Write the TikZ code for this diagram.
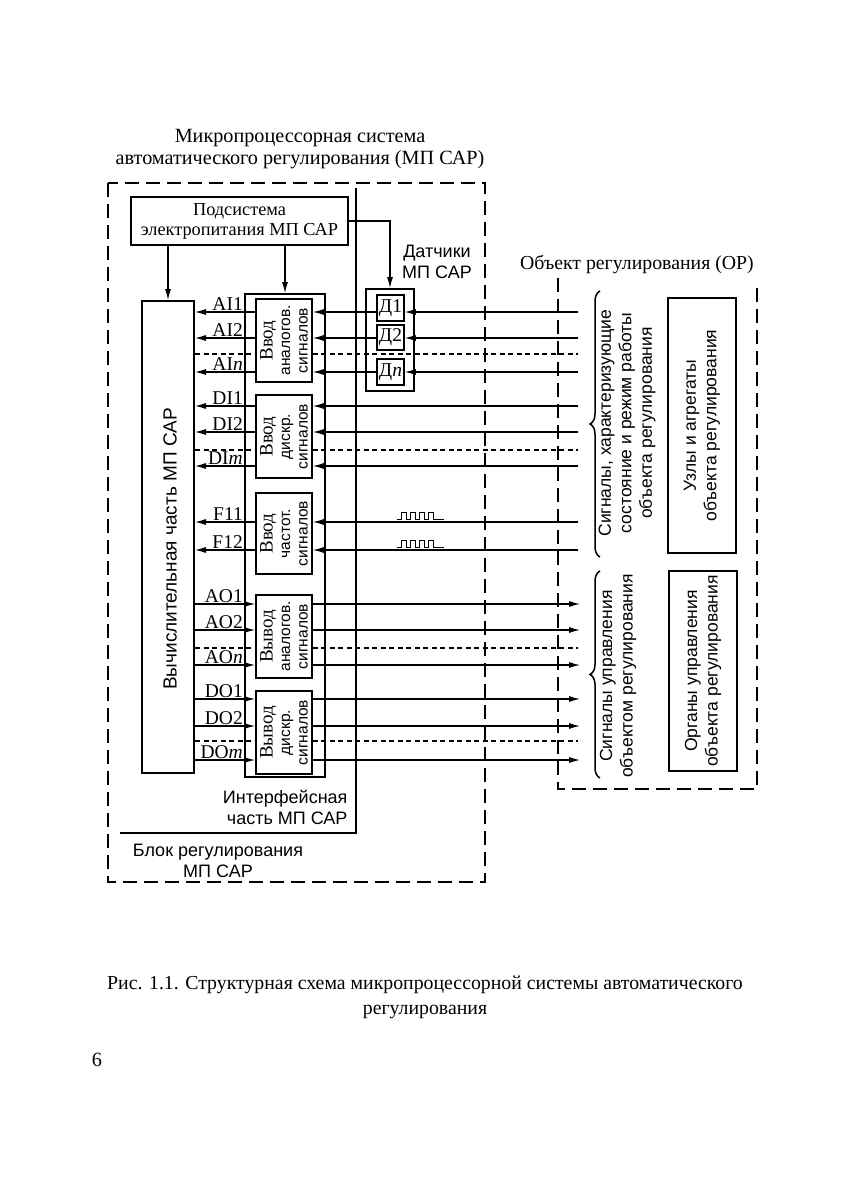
\documentclass[tikz,border=0pt]{standalone}
\usepackage{fontspec}
\setmainfont{Liberation Serif}
\setsansfont{Liberation Sans}
\usetikzlibrary{arrows.meta,decorations.pathreplacing}
\newcommand{\bhead}[1]{{\rmfamily\fontsize{19}{18}\selectfont #1}}
\begin{document}
\begin{tikzpicture}[x=1pt,y=-1pt,
  box/.style={draw, line width=1.8pt, inner sep=0pt},
  sig/.style={line width=1.1pt},
  arr/.style={sig, -{Latex[length=11pt,width=6pt]}},
  dsh/.style={line width=1.1pt, dash pattern=on 5pt off 3.5pt},
  odash/.style={line width=2.2pt, dash pattern=on 14pt off 7pt},
  serif/.style={font=\fontsize{20.2}{22.5}\selectfont},
  lab/.style={font=\fontsize{19.5}{22}\selectfont, inner sep=0pt, anchor=south east},
  sans/.style={font=\sffamily\fontsize{18}{21}\selectfont},
  rsans/.style={font=\sffamily\fontsize{17.5}{20.5}\selectfont, rotate=90, align=center},
  blk/.style={font=\sffamily\fontsize{15.5}{17.5}\selectfont, rotate=90, align=center, inner sep=0pt},
  brc/.style={decorate, decoration={brace, amplitude=10pt}, line width=1.5pt}
]
\useasboundingbox (0,0) rectangle (851,1199);
\fill[white] (0,0) rectangle (851,1199);

% title
\node[serif, align=center] (title) at (300,149) {Микропроцессорная система\\автоматического регулирования (МП САР)};

% outer dashed block
\draw[odash] (108,183) rectangle (485,882);
% solid L line
\draw[line width=1.5pt] (356,188) -- (356,833) -- (120,833);

% power
\node[box, minimum width=217pt, minimum height=48pt, align=center, font=\fontsize{18.3}{20}\selectfont] (pwr) at (239.5,221) {Подсистема\\электропитания МП САР};

% computing part
\node[box, line width=2pt, minimum width=52pt, minimum height=472pt] (comp) at (168,537) {};
\node[sans, rotate=90, font=\sffamily\fontsize{19}{22}\selectfont] (compt) at (170,549) {Вычислительная часть МП САР};

% interface frame
\node[box, minimum width=80pt, minimum height=483pt] (ifr) at (285,535.5) {};
\node[box, minimum width=56pt, minimum height=83pt] (b1) at (284,340.5) {};
\node[box, minimum width=56pt, minimum height=83pt] (b2) at (284,436.5) {};
\node[box, minimum width=56pt, minimum height=81pt] (b3) at (284,533.5) {};
\node[box, minimum width=56pt, minimum height=83pt] (b4) at (284,636.5) {};
\node[box, minimum width=56pt, minimum height=83pt] (b5) at (284,732.5) {};
\node[blk] (b1t) at (b1) {\bhead{Ввод}\\аналогов.\\сигналов};
\node[blk] (b2t) at (b2) {\bhead{Ввод}\\дискр.\\сигналов};
\node[blk] (b3t) at (b3) {\bhead{Ввод}\\частот.\\сигналов};
\node[blk] (b4t) at (b4) {\bhead{Вывод}\\аналогов.\\сигналов};
\node[blk] (b5t) at (b5) {\bhead{Вывод}\\дискр.\\сигналов};

% sensors
\node[box, minimum width=48pt, minimum height=102pt] (sens) at (390,340) {};
\node[box, line width=1.6pt, minimum width=27pt, minimum height=26pt, font=\fontsize{19.5}{22}\selectfont] (d1) at (390.5,308) {Д1};
\node[box, line width=1.6pt, minimum width=27pt, minimum height=25pt, font=\fontsize{19.5}{22}\selectfont] (d2) at (390.5,337.5) {Д2};
\node[box, line width=1.6pt, minimum width=27pt, minimum height=26pt, font=\fontsize{19.5}{22}\selectfont] (dn) at (390.5,372) {Д\textit{n}};
\node[sans, align=center] (senst) at (437,262) {Датчики\\МП САР};

% power arrows
\draw[arr] (pwr.south -| comp.north) -- (comp.north);
\draw[arr] (pwr.south -| ifr.north) -- (ifr.north);
\draw[arr] (pwr.east) -| (sens.north);

% analog inputs through sensors
\foreach \d/\y/\t in {d1/312/AI1, d2/338/AI2, dn/372/AI\textit{n}} {
  \coordinate (in\d) at (578,\y);
  \draw[arr] (in\d) -- (in\d -| \d.east);
  \draw[arr] (in\d -| \d.west) -- (in\d -| b1.east);
  \draw[arr] (in\d -| b1.west) -- (in\d -| comp.east);
  \node[lab] at (243,\y-1) {\t};
}
% discrete and frequency inputs
\foreach \b/\y/\t [count=\i] in {b2/406/DI1, b2/432/DI2, b2/466/DI\textit{m}, b3/522/F11, b3/550/F12} {
  \coordinate (inx\i) at (578,\y);
  \draw[arr] (inx\i) -- (inx\i -| \b.east);
  \draw[arr] (inx\i -| \b.west) -- (inx\i -| comp.east);
  \node[lab] at (243,\y-1) {\t};
}
% outputs
\foreach \b/\y/\t [count=\i] in {b4/604/AO1, b4/630/AO2, b4/665/AO\textit{n}, b5/699/DO1, b5/726/DO2, b5/760/DO\textit{m}} {
  \coordinate (out\i) at (580,\y);
  \draw[arr] (out\i -| comp.east) -- (out\i -| \b.west);
  \draw[arr] (out\i -| \b.east) -- (out\i);
  \node[lab] at (243,\y-1) {\t};
}
% dashed rows
\foreach \b/\y [count=\i] in {b1/354, b2/450, b4/648, b5/741} {
  \coordinate (ds\i) at (578,\y);
  \draw[dsh] (ds\i -| comp.east) -- (ds\i -| \b.west);
  \draw[dsh] (ds\i -| \b.east) -- (ds\i);
}

% pulse symbols
\foreach \y in {522,550} {
  \draw[line width=1pt] (397,\y-3) -- (401,\y-3) -- (401,\y-10) -- (406,\y-10) -- (406,\y-3)
     -- (410,\y-3) -- (410,\y-10) -- (415,\y-10) -- (415,\y-3)
     -- (419,\y-3) -- (419,\y-10) -- (424,\y-10) -- (424,\y-3)
     -- (428,\y-3) -- (428,\y-10) -- (433,\y-10) -- (433,\y-3) -- (444,\y-3);
}

% interface / block labels
\node[sans, align=right, anchor=east] (ift) at (351,807.5) {Интерфейсная\\часть МП САР};
\node[sans, align=center] (blt) at (218,861) {Блок регулирования\\МП САР};

% object of regulation
\node[serif, font=\fontsize{19.8}{22}\selectfont] (ort) at (637,265) {Объект регулирования (ОР)};
\draw[odash, line width=2pt] (558,278) -- (558,789) -- (757,789) -- (757,282);
\draw[brc] (600,557) -- (600,291);
\draw[brc] (600,778) -- (600,571);
\node[rsans] (s1t) at (627,423) {Сигналы, характеризующие\\состояние и режим работы\\объекта регулирования};
\node[rsans] (s2t) at (618,676) {Сигналы управления\\объектом регулирования};
\node[box, minimum width=68pt, minimum height=255pt] (uzl) at (702,425.5) {};
\node[box, minimum width=68pt, minimum height=200pt] (org) at (703,671) {};
\node[rsans] (uzlt) at (uzl) {Узлы и агрегаты\\объекта регулирования};
\node[rsans] (orgt) at (org) {Органы управления\\объекта регулирования};

% caption
\node[serif, align=center, font=\fontsize{19.8}{25}\selectfont] (cap) at (425,997) {Рис. 1.1. Структурная схема микропроцессорной системы автоматического\\регулирования};
\node[serif] (pg) at (97,1060) {6};
\end{tikzpicture}
\end{document}
